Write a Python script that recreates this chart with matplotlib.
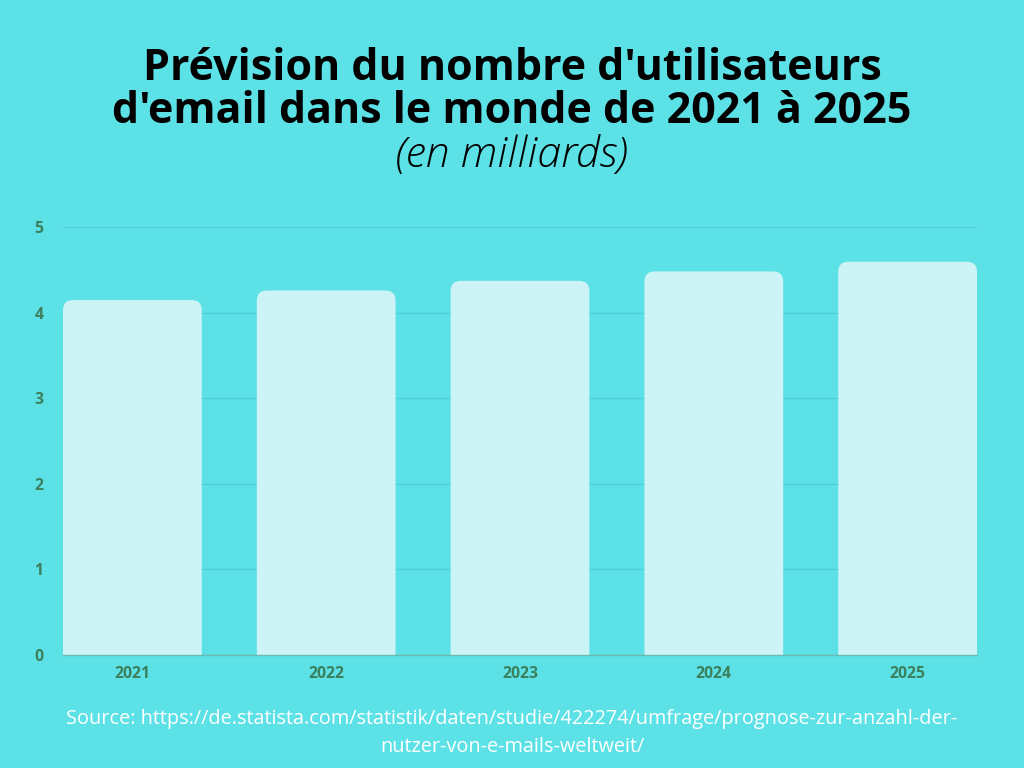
import matplotlib.pyplot as plt
from matplotlib.patches import PathPatch
from matplotlib.path import Path

# Data (billions of email users)
years = ['2021', '2022', '2023', '2024', '2025']
users = [4.147, 4.258, 4.371, 4.481, 4.594]

bg = '#5CE1E6'
bar_color = '#CCF4F6'
tick_color = '#3B7F5C'

plt.rcParams['font.family'] = ['Open Sans', 'DejaVu Sans']

fig = plt.figure(figsize=(10.24, 7.68), dpi=100)
fig.patch.set_facecolor(bg)
ax = fig.add_axes([63 / 1024, 1 - 655 / 768, 914 / 1024, (655 - 227) / 768])
ax.set_facecolor(bg)

x = range(len(years))
bars = ax.bar(x, users, width=0.716, color=bar_color, zorder=2)
ax.set_xlim(-0.358, len(years) - 1 + 0.358)
ax.set_ylim(0, 5)

# swap plain bars for bars with rounded top corners (radius ~10px)
rx = 10 / 194
ry = 10 / 85.6
for b in bars:
    x0, y0, w, h = b.get_x(), b.get_y(), b.get_width(), b.get_height()
    x1, top = x0 + w, y0 + h
    b.set_visible(False)
    verts = [(x0, y0), (x1, y0), (x1, top - ry), (x1, top), (x1 - rx, top),
             (x0 + rx, top), (x0, top), (x0, top - ry), (x0, y0)]
    codes = [Path.MOVETO, Path.LINETO, Path.LINETO, Path.CURVE3, Path.CURVE3,
             Path.LINETO, Path.CURVE3, Path.CURVE3, Path.CLOSEPOLY]
    ax.add_patch(PathPatch(Path(verts, codes), facecolor=bar_color,
                           edgecolor='none', zorder=2))

ax.set_xticks(list(x))
ax.set_xticklabels(years)
ax.set_yticks([0, 1, 2, 3, 4, 5])
ax.grid(axis='y', color='#4FCFD5', linewidth=1, zorder=0)
ax.tick_params(length=0, labelsize=11.3, labelcolor=tick_color)
ax.tick_params(axis='y', pad=14)
ax.tick_params(axis='x', pad=8)
for lbl in ax.get_xticklabels() + ax.get_yticklabels():
    lbl.set_fontweight('bold')

for side in ['top', 'right', 'left']:
    ax.spines[side].set_visible(False)
ax.spines['bottom'].set_color('#6DBBAF')
ax.spines['bottom'].set_linewidth(1)
ax.spines['bottom'].set_zorder(3)

fig.text(0.5, 1 - 90 / 768, "Prévision du nombre d'utilisateurs\nd'email dans le monde de 2021 à 2025",
         ha='center', va='center', fontsize=31, fontweight='bold', color='black',
         linespacing=1.0)
fig.text(0.5, 1 - 156 / 768, '(en milliards)', ha='center', va='center',
         fontsize=31, fontstyle='italic', fontweight='light', color='black')

fig.text(0.5, 1 - 733 / 768,
         'Source: https://de.statista.com/statistik/daten/studie/422274/umfrage/prognose-zur-anzahl-der-\n'
         'nutzer-von-e-mails-weltweit/',
         ha='center', va='center', fontsize=14.3, color='white', linespacing=1.5)

fig.savefig('out.png', dpi=100, facecolor=bg)
